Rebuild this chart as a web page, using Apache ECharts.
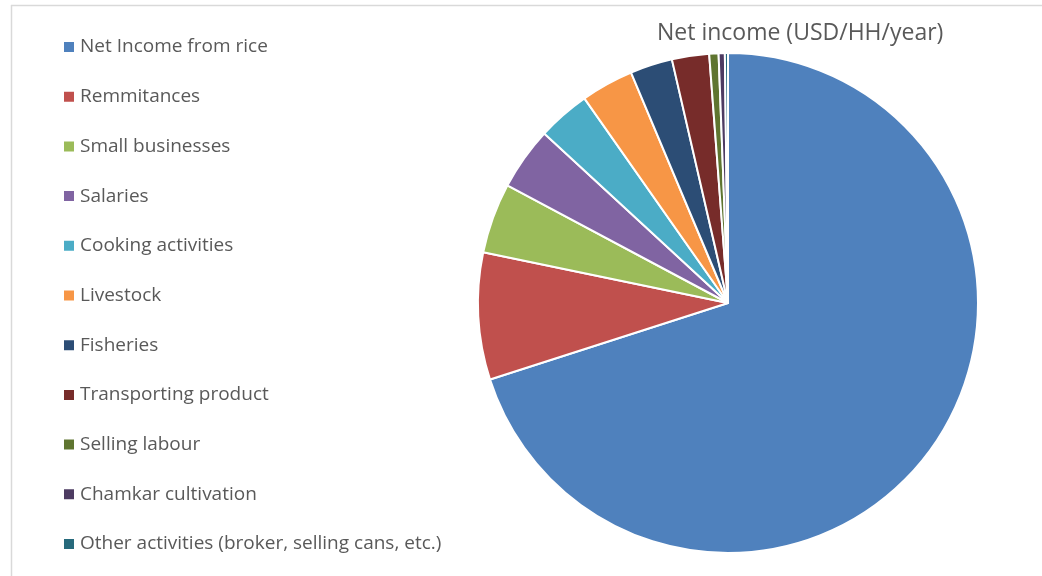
<!DOCTYPE html>
<html>
<head>
<meta charset="utf-8">
<script src="https://cdn.jsdelivr.net/npm/echarts@6/dist/echarts.min.js"></script>
<style>
  html, body { margin: 0; padding: 0; background: #fff; }
  #chart { width: 1042px; height: 576px; }
</style>
</head>
<body>
<div id="chart"></div>
<script>
// Income sources of a household, net income in USD per household per year
const categories = [
  'Net Income from rice',
  'Remmitances',
  'Small businesses',
  'Salaries',
  'Cooking activities',
  'Livestock',
  'Fisheries',
  'Transporting product',
  'Selling labour',
  'Chamkar cultivation',
  'Other activities (broker, selling cans, etc.)'
];
const netIncome = [1050, 123, 68, 61, 51, 51, 41, 36, 9, 6, 3];
const sliceColors = ['#4F81BD', '#C0504D', '#9BBB59', '#8064A2', '#4BACC6', '#F79646',
                     '#2C4D75', '#772C2A', '#5F7530', '#4D3B62', '#276A7C'];
const chartTitle = 'Net income (USD/HH/year)';

const chart = echarts.init(document.getElementById('chart'), null, { renderer: 'canvas' });

chart.setOption({
  animation: false,
  backgroundColor: '#ffffff',
  color: sliceColors,
  title: {
    text: chartTitle,
    left: 652,
    top: 17,
    textStyle: {
      fontFamily: 'Open Sans',
      fontSize: 23,
      fontWeight: 'normal',
      color: '#595959'
    }
  },
  legend: {
    orient: 'vertical',
    left: 57,
    top: 31,
    icon: 'rect',
    itemWidth: 12,
    itemHeight: 12,
    itemGap: 27.7,
    textStyle: {
      fontFamily: 'Open Sans',
      fontSize: 19,
      lineHeight: 22,
      color: '#595959',
      padding: [0, 0, 0, 0]
    },
    data: categories
  },
  graphic: [
    { type: 'line', shape: { x1: 11, y1: 5.5, x2: 1042, y2: 5.5 }, style: { stroke: '#d9d9d9', lineWidth: 1.5 } },
    { type: 'line', shape: { x1: 11.5, y1: 5, x2: 11.5, y2: 576 }, style: { stroke: '#d9d9d9', lineWidth: 1.5 } }
  ],
  series: [{
    type: 'pie',
    center: [728, 303],
    radius: 250,
    startAngle: 90,
    clockwise: true,
    avoidLabelOverlap: false,
    label: { show: false },
    labelLine: { show: false },
    emphasis: { disabled: true },
    itemStyle: { borderColor: '#ffffff', borderWidth: 2 },
    data: categories.map((name, i) => ({ name, value: netIncome[i] }))
  }]
});
</script>
</body>
</html>
